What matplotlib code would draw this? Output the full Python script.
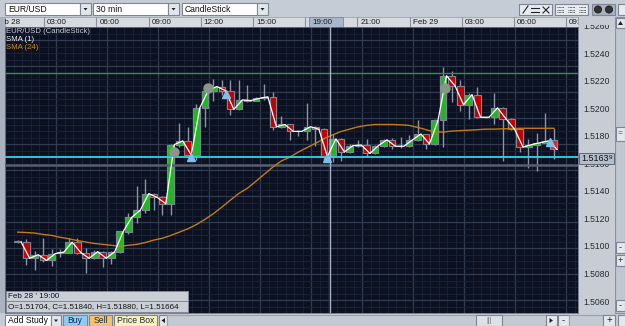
import matplotlib
matplotlib.use("Agg")
import matplotlib.pyplot as plt
from matplotlib.patches import Rectangle, Polygon

W, H = 625, 326

# EUR/USD 30 min bars, Feb 28 00:30 -> Feb 29 08:00
opens = [1.51050, 1.51045, 1.50921, 1.50948, 1.50904, 1.50965, 1.50965, 1.51045, 1.50965, 1.50921,
         1.50972, 1.50921, 1.50972, 1.51122, 1.51236, 1.51291, 1.51418, 1.51389, 1.51340, 1.51795,
         1.51824, 1.51715, 1.52078, 1.52211, 1.52242, 1.52211, 1.52066, 1.52139, 1.52134, 1.52151,
         1.52163, 1.51933, 1.51950, 1.51897, 1.51897, 1.51933, 1.51914, 1.51704, 1.51840, 1.51739,
         1.51788, 1.51792, 1.51727, 1.51788, 1.51832, 1.51783, 1.51783, 1.51832, 1.51877, 1.51800,
         1.51981, 1.52325, 1.52248, 1.52102, 1.52180, 1.52006, 1.52006, 1.52078, 1.51993, 1.51914,
         1.51776, 1.51795, 1.51810, 1.51832]
closes = [1.51045, 1.50921, 1.50948, 1.50904, 1.50957, 1.50968, 1.51045, 1.50965, 1.50921, 1.50972,
          1.50921, 1.50972, 1.51127, 1.51236, 1.51291, 1.51418, 1.51389, 1.51340, 1.51795, 1.51824,
          1.51715, 1.52078, 1.52211, 1.52242, 1.52211, 1.52066, 1.52139, 1.52134, 1.52151, 1.52163,
          1.51933, 1.51950, 1.51897, 1.51897, 1.51933, 1.51914, 1.51703, 1.51840, 1.51739, 1.51788,
          1.51792, 1.51727, 1.51788, 1.51832, 1.51783, 1.51783, 1.51832, 1.51877, 1.51800, 1.51981,
          1.52325, 1.52248, 1.52102, 1.52180, 1.52006, 1.52006, 1.52078, 1.51993, 1.51914, 1.51776,
          1.51795, 1.51810, 1.51824, 1.51759]
highs = [1.51060, 1.51071, 1.50980, 1.51079, 1.50990, 1.50990, 1.51075, 1.51080, 1.51001, 1.50985,
         1.50980, 1.50980, 1.51130, 1.51267, 1.51478, 1.51534, 1.51420, 1.51400, 1.51800, 1.51962,
         1.51933, 1.52107, 1.52235, 1.52301, 1.52290, 1.52296, 1.52296, 1.52253, 1.52160, 1.52260,
         1.52199, 1.52015, 1.51955, 1.51905, 1.52117, 1.51940, 1.51920, 1.51880, 1.51850, 1.51800,
         1.51830, 1.51840, 1.51795, 1.51840, 1.51850, 1.51857, 1.51870, 1.51981, 1.51880, 1.51990,
         1.52393, 1.52360, 1.52296, 1.52190, 1.52235, 1.52010, 1.52189, 1.52085, 1.52000, 1.51920,
         1.51836, 1.51885, 1.52037, 1.51921]
lows = [1.51040, 1.50868, 1.50827, 1.50890, 1.50860, 1.50930, 1.50960, 1.50950, 1.50808, 1.50915,
        1.50851, 1.50880, 1.50965, 1.51110, 1.51195, 1.51267, 1.51296, 1.51255, 1.51255, 1.51780,
        1.51710, 1.51679, 1.51933, 1.52131, 1.52180, 1.52025, 1.52060, 1.52125, 1.52130, 1.52140,
        1.51908, 1.51925, 1.51834, 1.51863, 1.51834, 1.51788, 1.51679, 1.51664, 1.51672, 1.51730,
        1.51780, 1.51700, 1.51720, 1.51780, 1.51760, 1.51767, 1.51775, 1.51825, 1.51764, 1.51790,
        1.51776, 1.52126, 1.52051, 1.51993, 1.52000, 1.52000, 1.51957, 1.51667, 1.51910, 1.51740,
        1.51618, 1.51594, 1.51805, 1.51681]
sma24 = [1.51122, 1.51119, 1.51115, 1.51104, 1.51097, 1.51082, 1.51071, 1.51057, 1.51046, 1.51035,
         1.51028, 1.51021, 1.51013, 1.51021, 1.51028, 1.51042, 1.51061, 1.51075, 1.51097, 1.51122,
         1.51148, 1.51180, 1.51220, 1.51264, 1.51315, 1.51369, 1.51420, 1.51460, 1.51514, 1.51569,
         1.51623, 1.51670, 1.51699, 1.51739, 1.51772, 1.51805, 1.51841, 1.51870, 1.51896, 1.51914,
         1.51932, 1.51943, 1.51950, 1.51950, 1.51950, 1.51948, 1.51943, 1.51928, 1.51910, 1.51892,
         1.51892, 1.51899, 1.51903, 1.51906, 1.51910, 1.51914, 1.51914, 1.51917, 1.51917, 1.51921,
         1.51921, 1.51921, 1.51921, 1.51921]

hour_ticks = [0, 3, 6, 9, 12, 15, 18, 21, 24, 27, 30, 33]
hour_labels = ["Feb 28", "03:00", "06:00", "09:00", "12:00", "15:00", "18:00", "21:00",
               "Feb 29", "03:00", "06:00", "09:00"]
price_ticks = [1.5060, 1.5080, 1.5100, 1.5120, 1.5140, 1.5160, 1.5180, 1.5200, 1.5220, 1.5240, 1.5260]

level_green = 1.52349
level_cyan = 1.51697
last_price = 1.51639
cursor_bar = 37
cursor_time = "19:00"
cursor_text = ["Feb 28 ' 19:00", "O=1.51704, C=1.51840, H=1.51880, L=1.51664"]

entry_bars = [18.4, 22.4, 50.2]
entry_prices = [1.51740, 1.52231, 1.52228]
exit_bars = [20.4, 24.5, 36.4, 62.6]
exit_prices = [1.51703, 1.52187, 1.51691, 1.51819]

plt.rcParams['font.family'] = ['Liberation Sans', 'DejaVu Sans']

BG = '#c6ccd6'
XMIN, XMAX = 0, 65.86
YMIN, YMAX = 1.505202, 1.525960
PX = 0.00007258  # price per pixel
FS = 5.8

fig = plt.figure(figsize=(W / 100, H / 100), dpi=100)
fig.patch.set_facecolor(BG)


def px_axes(x0, y0, x1, y1, z=1):
    return fig.add_axes([x0 / W, 1 - y1 / H, (x1 - x0) / W, (y1 - y0) / H], zorder=z)


def box(a, x0, y0, x1, y1, fc, ec='#7d8593', lw=0.8, z=1):
    a.add_patch(Rectangle((x0, y0), x1 - x0, y1 - y0, fc=fc, ec=ec, lw=lw, zorder=z))


def hour_to_x(h):
    return 2 * h - 1.5


# ---- ui frame (pixel coords)
ui = px_axes(0, 0, W, H, 0)
ui.set_xlim(0, W)
ui.set_ylim(H, 0)
ui.axis('off')
box(ui, 0, 17, 5, 313, '#aab2bf', ec='none')

for x0, x1, lab in [(5, 80, 'EUR/USD'), (93, 168, '30 min'), (182, 257, 'CandleStick')]:
    box(ui, x0, 3, x1, 15, 'white')
    box(ui, x1, 3, x1 + 11, 15, '#e2e6ec')
    ui.text(x0 + 3, 9.3, lab, fontsize=6.2, va='center', color='#111111')
    ui.add_patch(Polygon([(x1 + 3.5, 8), (x1 + 7.5, 8), (x1 + 5.5, 10.5)], fc='#222222', ec='none'))

# top right tool icons
box(ui, 519, 4, 552, 15, '#e8ebf0')
ui.plot([523, 528], [13, 6], color='#222222', lw=0.8)
ui.plot([531, 539], [7.5, 7.5], color='#222222', lw=0.8)
ui.plot([531, 539], [11.5, 11.5], color='#222222', lw=0.8)
ui.plot([543, 549], [7, 13], color='#222222', lw=0.8)
ui.plot([543, 549], [13, 7], color='#222222', lw=0.8)
box(ui, 555, 4, 588, 15, '#e8ebf0')
for gx in [557, 568, 579]:
    for gy in [7, 9.5, 12]:
        ui.plot([gx, gx + 7], [gy, gy], color='#333333', lw=0.6, ls=(0, (1, 0.7)))
box(ui, 592, 4, 615, 15, '#a9b2c0')
for cx in [598, 609]:
    ui.add_patch(plt.Circle((cx, 9.5), 3.6, fc='#333333', ec='#111111', lw=0.5))
box(ui, 618, 4, 628, 15, '#e8ebf0')

# right scrollbar
box(ui, 615, 17, 625, 313, '#c0c7d1', ec='#8a92a0')
box(ui, 616, 18, 625, 28, '#e4e7ec')
ui.add_patch(Polygon([(618, 25), (623, 25), (620.5, 21)], fc='#222222', ec='none'))
box(ui, 616, 127, 625, 141, '#e4e7ec')
ui.text(620.5, 134, '=', fontsize=6, ha='center', va='center', color='#444444')
for yy, s in [(242, '-'), (255, '+'), (300, '-')]:
    box(ui, 616, yy, 625, yy + 11, '#e4e7ec')
    ui.text(620.5, yy + 5.5, s, fontsize=6.5, ha='center', va='center', color='#222222')

# bottom bar
box(ui, 5, 315, 51, 326, 'white')
ui.text(8, 320.8, 'Add Study', fontsize=6.2, va='center', color='#111111')
box(ui, 51, 315, 61, 326, '#e2e6ec')
ui.add_patch(Polygon([(54, 319.5), (58, 319.5), (56, 322)], fc='#222222', ec='none'))
for x0, x1, lab, fc in [(63, 87, 'Buy', '#8ecdf3'), (89, 112, 'Sell', '#f6c46a'),
                        (114, 157, 'Price Box', '#fbf3b4')]:
    box(ui, x0, 315, x1, 326, fc)
    ui.text((x0 + x1) / 2, 320.8, lab, fontsize=6.2, ha='center', va='center', color='#1a2a50')
box(ui, 159, 315, 167, 326, '#e4e7ec')
ui.add_patch(Polygon([(165, 318), (165, 323), (161.5, 320.5)], fc='#222222', ec='none'))
box(ui, 167, 315, 546, 326, '#c3cad4', ec='#9aa2ae')
box(ui, 476, 315, 502, 326, '#dde1e7')
ui.text(489, 320.5, '|||', fontsize=5, ha='center', va='center', color='#777777')
box(ui, 546, 315, 557, 326, '#e4e7ec')
ui.add_patch(Polygon([(549.5, 318), (549.5, 323), (553, 320.5)], fc='#222222', ec='none'))
box(ui, 558, 315, 569, 326, '#e4e7ec')
ui.text(563.5, 320.5, '-', fontsize=7, ha='center', va='center', color='#222222')
box(ui, 569, 315, 603, 326, '#c3cad4', ec='#9aa2ae')
box(ui, 603, 315, 615, 326, '#e4e7ec')
ui.text(609, 320.5, '+', fontsize=7, ha='center', va='center', color='#222222')
box(ui, 618, 315, 628, 326, '#e4e7ec')

# ---- time header
hdr = px_axes(5, 17, 578, 27, 1)
hdr.set_xlim(XMIN, XMAX)
hdr.set_ylim(0, 1)
hdr.set_facecolor('#d6dae1')
hdr.set_xticks([])
hdr.set_yticks([])
for s in hdr.spines.values():
    s.set_color('#9aa2ae')
    s.set_linewidth(0.6)
for h, lab in zip(hour_ticks, hour_labels):
    x = hour_to_x(h)
    hdr.axvline(x, color='#8b929e', lw=0.8)
    hdr.text(x + 0.35, 0.45, lab, fontsize=FS, va='center', color='#1a1a1a', clip_on=True)
hdr.add_patch(Rectangle((cursor_bar - 2.1, 0.02), 3.9, 0.96, fc='#a9b5c8', ec='#7d8799', lw=0.6, zorder=3))
hdr.text(cursor_bar - 1.7, 0.45, cursor_time, fontsize=FS, va='center', color='#1a1a1a', zorder=4)

# ---- price column
pax = px_axes(578, 25, 615, 313, 1)
pax.set_xlim(0, 1)
pax.set_ylim(YMIN, 1.5240 + 29 * PX)
pax.set_facecolor('#c8cdd5')
pax.set_xticks([])
pax.set_yticks([])
for s in pax.spines.values():
    s.set_visible(False)
for p in price_ticks:
    pax.text(0.5, p, f'{p:.4f}', fontsize=6.2, ha='center', va='center', color='#2a2a2a', clip_on=True)
pax.add_patch(Rectangle((0.03, last_price - 5.5 * PX), 0.94, 11 * PX, fc='#b3bcc9', ec='#5f6777', lw=0.7, zorder=3))
pax.text(0.45, last_price, f'{last_price:.5f}'[:-1], fontsize=6.4, ha='center', va='center', color='#111111', zorder=4)
pax.text(0.88, last_price + 1.5 * PX, f'{last_price:.5f}'[-1], fontsize=4.6, ha='center', va='center', color='#111111', zorder=4)

# ---- chart
ax = px_axes(5, 27, 578, 313, 2)
ax.set_facecolor('#0b1121')
ax.set_xlim(XMIN, XMAX)
ax.set_ylim(YMIN, YMAX)
major_x = [hour_to_x(h) for h in hour_ticks]
ax.set_xticks(major_x)
ax.set_xticks([x + 0.5 for x in range(-1, 66)], minor=True)
ax.set_yticks(price_ticks)
ax.set_yticks([1.5050 + i * 0.0005 for i in range(45)], minor=True)
ax.grid(which='minor', color='#1b2437', lw=0.6)
ax.grid(which='major', color='#313b50', lw=0.9)
ax.tick_params(which='both', length=0, labelbottom=False, labelleft=False)
for s in ax.spines.values():
    s.set_color('#6a7282')
    s.set_linewidth(0.6)
ax.set_axisbelow(True)

last = len(opens) - 1
for i, (o, h, l, c) in enumerate(zip(opens, highs, lows, closes)):
    ax.vlines(i, l, h, color='#8e95a2', lw=1.0, zorder=2)
    if c >= o:
        fc = '#1fb91f'
    else:
        fc = '#ff1c1c' if i == last else '#c20000'
    hgt = max(abs(c - o), 0.00003)
    ax.add_patch(Rectangle((i - 0.4, min(o, c)), 0.8, hgt, fc=fc, ec='#7f8494', lw=0.8, zorder=3))

ax.plot(range(len(sma24)), sma24, color='#c27c12', lw=1.0, zorder=4)
ax.plot([i + 0.4 for i in range(len(closes))], closes, color='white', lw=0.9, zorder=5)

ax.axhline(level_green, color='#3f8a55', lw=1.0, zorder=4)
ax.axhline(level_cyan, color='#2fd3e6', lw=1.3, zorder=4)
ax.axhline(last_price, color='#565d6d', lw=1.8, zorder=3)
ax.axvline(cursor_bar - 0.3, color='#a9b0bd', lw=1.0, zorder=4)

ax.plot(entry_bars, entry_prices, 'o', color='#879887', ms=6.5, zorder=6)
ax.plot(exit_bars, exit_prices, '^', color='#7cc0ee', ms=6, zorder=6)

# ---- overlays
top = px_axes(0, 0, W, H, 5)
top.set_xlim(0, W)
top.set_ylim(H, 0)
top.axis('off')
top.patch.set_alpha(0)
top.text(6, 31.5, 'EUR/USD (CandleStick)', fontsize=5.6, va='center', color='#c9cdd5')
top.text(6, 39.5, 'SMA (1)', fontsize=5.6, va='center', color='#f2f2f2')
top.text(6, 47.5, 'SMA (24)', fontsize=5.6, va='center', color='#d08a12')

box(top, 6, 291, 188, 301, '#c9ced7', ec='#80889a', lw=0.7)
box(top, 6, 301, 188, 312, '#c9ced7', ec='#80889a', lw=0.7)
top.text(8.5, 296.2, cursor_text[0], fontsize=FS, va='center', color='#111111')
top.text(8.5, 306.6, cursor_text[1], fontsize=FS, va='center', color='#111111')

fig.savefig('out.png', dpi=100, facecolor=fig.get_facecolor())
